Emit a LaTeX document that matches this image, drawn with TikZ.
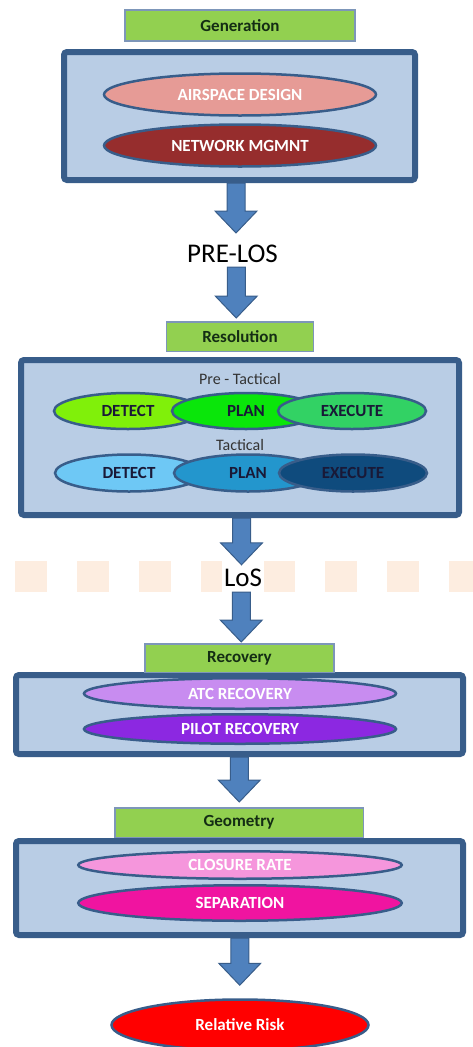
\documentclass[tikz,border=0pt]{standalone}
\usepackage{fontspec}
\setmainfont{Carlito}
\usetikzlibrary{shapes.geometric,calc}

\definecolor{boxfill}{RGB}{185,205,229}
\definecolor{boxedge}{RGB}{56,93,138}
\definecolor{tagfill}{RGB}{146,208,80}
\definecolor{tagedge}{RGB}{125,150,185}
\definecolor{tagtext}{RGB}{20,45,20}
\definecolor{arrowfill}{RGB}{79,129,189}
\definecolor{bandpeach}{RGB}{253,237,224}
\definecolor{darktext}{RGB}{25,25,55}
\definecolor{airspace}{RGB}{230,155,150}
\definecolor{network}{RGB}{150,45,45}
\definecolor{predetect}{RGB}{128,240,10}
\definecolor{preplan}{RGB}{10,230,10}
\definecolor{preexec}{RGB}{50,210,100}
\definecolor{tacdetect}{RGB}{110,200,245}
\definecolor{tacplan}{RGB}{35,150,205}
\definecolor{tacexec}{RGB}{15,75,125}
\definecolor{atc}{RGB}{200,140,240}
\definecolor{pilot}{RGB}{140,40,225}
\definecolor{closure}{RGB}{245,150,220}
\definecolor{separation}{RGB}{240,20,160}
\definecolor{riskred}{RGB}{255,0,0}

\tikzset{
  stagebox/.style={draw=boxedge, line width=6pt, fill=boxfill, rounded corners=3pt, inner sep=0pt},
  tag/.style={draw=tagedge, line width=1.5pt, fill=tagfill, inner sep=0pt, text=tagtext,
    font=\fontsize{17}{20}\selectfont\bfseries},
  oval/.style={ellipse, draw=boxedge, line width=2.5pt, inner sep=0pt, text=white,
    font=\fontsize{17}{20}\selectfont\bfseries},
  dark/.style={text=darktext},
  smalltext/.style={inner sep=0pt, text=black!80, font=\fontsize{16}{19}\selectfont},
  bigtext/.style={inner sep=0pt, text height=19pt, text depth=0pt, font=\fontsize{27}{30}\selectfont},
  flowarrow/.style={fill=arrowfill, draw=boxedge, line width=1pt, line join=miter}
}

% block arrow from #2.south to #3.north, tip #1 above the target
\newcommand{\flowarrow}[3][2pt]{%
  \draw[flowarrow] let \p1=(#2.south), \p2=(#3.north), \n1={(\x1+\x2)/2} in
    (\n1-9pt,\y1) -- (\n1-9pt,\y2+#1+22pt) -- (\n1-21pt,\y2+#1+22pt) -- (\n1+0pt,\y2+#1)
    -- (\n1+21pt,\y2+#1+22pt) -- (\n1+9pt,\y2+#1+22pt) -- (\n1+9pt,\y1) -- cycle;}

\begin{document}
\begin{tikzpicture}[x=1pt,y=-1pt]
  \useasboundingbox (0,0) rectangle (472,1047);

  % generation
  \node[stagebox, minimum width=351pt, minimum height=128pt] (genbox) at (239.5,116) {};
  \node[tag, minimum width=230pt, minimum height=31pt] (gentag) at (240,25.5) {Generation};
  \node[oval, fill=airspace, minimum width=272pt, minimum height=42pt] (airspace) at (240,94.5) {AIRSPACE DESIGN};
  \node[oval, fill=network, minimum width=272pt, minimum height=42pt] (network) at (240,145.5) {NETWORK MGMNT};

  \node[bigtext, outer sep=5pt] (prelos) at (232.5,252.5) {PRE-LOS};

  % resolution
  \node[stagebox, minimum width=438pt, minimum height=155pt] (resbox) at (240,437.5) {};
  \node[tag, minimum width=147pt, minimum height=29.5pt] (restag) at (240,336.5) {Resolution};
  \node[smalltext] (pretac) at (240,379) {Pre - Tactical};
  \node[oval, dark, fill=predetect, minimum width=148pt, minimum height=36pt] (predetect) at (128,411) {DETECT};
  \node[oval, dark, fill=preplan, minimum width=148pt, minimum height=36pt] (preplan) at (246,411) {PLAN};
  \node[oval, dark, fill=preexec, minimum width=148pt, minimum height=36pt] (preexec) at (352,411) {EXECUTE};
  \node[smalltext] (tac) at (240,445) {Tactical};
  \node[oval, dark, fill=tacdetect, minimum width=148pt, minimum height=37pt] (tacdetect) at (129,473) {DETECT};
  \node[oval, dark, fill=tacplan, minimum width=148pt, minimum height=37pt] (tacplan) at (248,473) {PLAN};
  \node[oval, dark, fill=tacexec, minimum width=148pt, minimum height=37pt] (tacexec) at (353,473) {EXECUTE};

  % loss of separation band
  \foreach \x in {15,77,...,451}
    \fill[bandpeach] (\x,561) rectangle ++(32,31);
  \node[bigtext, fill=white, minimum width=42pt, minimum height=31pt] (los) at (243,576.5) {LoS};

  % recovery
  \node[stagebox, minimum width=447pt, minimum height=79pt] (recbox) at (239.5,714.5) {};
  \node[tag, minimum width=189pt, minimum height=28.5pt] (rectag) at (239.5,658) {Recovery};
  \node[oval, fill=atc, minimum width=312pt, minimum height=30.5pt] (atc) at (240,693.5) {ATC RECOVERY};
  \node[oval, fill=pilot, minimum width=312pt, minimum height=29.5pt] (pilot) at (240,729) {PILOT RECOVERY};

  % geometry
  \node[stagebox, minimum width=447pt, minimum height=94pt] (geobox) at (239.5,888) {};
  \node[tag, minimum width=248.5pt, minimum height=29.5pt] (geotag) at (239,822.5) {Geometry};
  \node[oval, fill=closure, minimum width=323.5pt, minimum height=27.5pt] (closure) at (240,865) {CLOSURE RATE};
  \node[oval, fill=separation, minimum width=323.5pt, minimum height=35.5pt] (separation) at (240,903) {SEPARATION};

  \node[oval, fill=riskred, minimum width=257pt, minimum height=51pt] (risk) at (240,1025) {Relative Risk};

  % arrows
  \flowarrow[5pt]{genbox}{prelos}
  \flowarrow[3pt]{prelos}{restag}
  \flowarrow[-4pt]{resbox}{los}
  \flowarrow[1pt]{los}{rectag}
  \flowarrow[5pt]{recbox}{geotag}
  \flowarrow[13pt]{geobox}{risk}
\end{tikzpicture}
\end{document}
